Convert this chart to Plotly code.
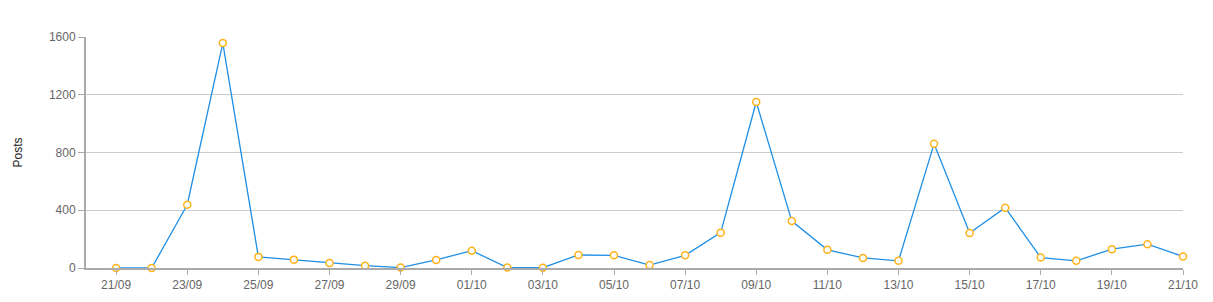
import plotly.graph_objects as go
import pandas as pd

dates = pd.date_range("2023-09-21", "2023-10-21", freq="D")
posts = [0, 0, 438, 1558, 77, 58, 35, 16, 3, 56, 120, 3, 2, 90, 88, 20, 88,
         245, 1150, 325, 126, 70, 50, 860, 243, 418, 72, 50, 130, 165, 80]
y_ticks = [0, 400, 800, 1200, 1600]

fig = go.Figure()
fig.add_trace(go.Scatter(
    x=dates, y=posts, mode="lines+markers",
    line=dict(color="#1f8fe5", width=1.3),
    marker=dict(size=7, color="white", line=dict(color="#ffb31a", width=1.5)),
    cliponaxis=False, showlegend=False,
))

fig.update_layout(
    width=1213, height=302,
    margin=dict(l=86, r=30, t=37, b=34, autoexpand=False),
    paper_bgcolor="white", plot_bgcolor="white",
    font=dict(family="Liberation Sans, Arial, sans-serif", size=12, color="#666"),
    xaxis=dict(
        type="date", automargin=False,
        range=["2023-09-20 03:40", "2023-10-21 00:00"],
        tickformat="%d/%m", dtick=2 * 86400000, tick0="2023-09-21",
        showgrid=False, showline=True, linecolor="#aaa", linewidth=2,
        ticks="outside", ticklen=5, tickcolor="#aaa", tickwidth=1,
        tickfont=dict(color="#666", size=12), zeroline=False,
    ),
    yaxis=dict(
        range=[0, 1600], tickvals=y_ticks, automargin=False,
        showgrid=True, gridcolor="#cccccc", gridwidth=1,
        showline=True, linecolor="#aaa", linewidth=2,
        ticks="outside", ticklen=6, tickcolor="#aaa", tickwidth=1,
        tickfont=dict(color="#666", size=12), zeroline=False,
    ),
    annotations=[dict(
        text="Posts", xref="paper", yref="paper", x=(17 - 86) / 1097, y=0.5,
        xanchor="center", yanchor="middle", textangle=-90, showarrow=False,
        font=dict(color="#222", size=12),
    )],
)

fig.write_html("out.html")
